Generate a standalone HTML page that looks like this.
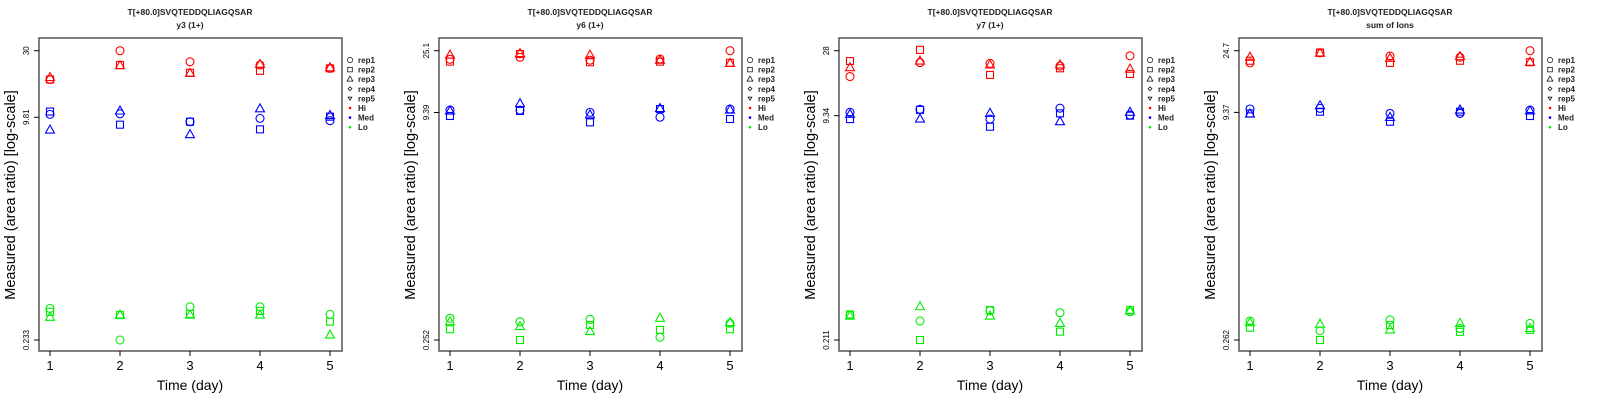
<!DOCTYPE html>
<html><head><meta charset="utf-8"><style>
html,body{margin:0;padding:0;background:#fff;}
svg{display:block;font-family:"Liberation Sans",sans-serif;}
</style></head><body>
<svg id="chart" width="1600" height="400" xmlns="http://www.w3.org/2000/svg"></svg>
<script>
const days = [1,2,3,4,5];
const panelTitles = ["y3 (1+)","y6 (1+)","y7 (1+)","sum of Ions"];
const peptide = "T[+80.0]SVQTEDDQLIAGQSAR";
const yTickTop = [30, 25.1, 28, 24.7];
const yTickMid = [9.81, 9.39, 9.34, 9.37];
const yTickBot = [0.233, 0.252, 0.211, 0.262];
const yTickLabels = [["30","9.81","0.233"],["25.1","9.39","0.252"],["28","9.34","0.211"],["24.7","9.37","0.262"]];
const legendLabels = ["rep1","rep2","rep3","rep4","rep5","Hi","Med","Lo"];
// values[panel][group Hi/Med/Lo][rep][day]
const p1Hi = [[18.5,30,24.9,23.6,22.3],[18.5,23.6,20.7,21.4,22.3],[19.1,23.3,20.5,23.8,22.5]];
const p1Med = [[10.3,10.4,9.10,9.63,9.26],[10.8,8.66,9.10,8.01,9.91],[7.91,10.9,7.32,11.3,10.1]];
const p1Lo = [[0.396,0.233,0.407,0.407,0.358],[0.374,0.354,0.361,0.379,0.317],[0.341,0.354,0.354,0.354,0.253]];
const p2Hi = [[21.9,22.6,21.6,22.0,25.1],[21.1,23.8,20.9,21.1,20.7],[23.4,24.0,23.4,21.6,20.5]];
const p2Med = [[9.77,9.77,9.41,8.71,9.92],[8.89,9.63,8.03,9.92,8.47],[9.61,10.8,9.03,10.0,9.77]];
const p2Lo = [[0.356,0.337,0.350,0.263,0.329],[0.299,0.252,0.320,0.296,0.299],[0.337,0.312,0.288,0.356,0.332]];
const p3Hi = [[18.1,22.9,22.6,21.6,25.7],[23.5,28.4,18.6,20.8,18.9],[21.0,23.5,22.0,22.0,20.5]];
const p3Med = [[9.88,10.4,8.82,10.6,9.44],[8.82,10.3,7.75,9.71,9.34],[9.55,8.82,9.71,8.44,9.88]];
const p3Lo = [[0.321,0.291,0.346,0.335,0.340],[0.325,0.211,0.350,0.243,0.350],[0.316,0.370,0.316,0.279,0.344]];
const p4Hi = [[20.4,23.9,22.7,22.3,24.7],[21.1,24.0,20.4,21.1,20.6],[22.3,23.7,21.9,22.5,20.6]];
const p4Med = [[9.88,9.98,9.22,9.22,9.72],[9.22,9.47,8.09,9.47,8.85],[9.13,10.4,8.66,9.72,9.58]];
const p4Lo = [[0.353,0.303,0.359,0.314,0.340],[0.318,0.262,0.331,0.298,0.307],[0.344,0.336,0.307,0.340,0.314]];
const panelData = [[p1Hi,p1Med,p1Lo],[p2Hi,p2Med,p2Lo],[p3Hi,p3Med,p3Lo],[p4Hi,p4Med,p4Lo]];
const groupColors = ["#ff0000","#0000ff","#00ee00"];
const groupNames = ["hi","med","lo"];

const NS="http://www.w3.org/2000/svg";
const svg=document.getElementById('chart');
function mk(tag,attrs,parent){const e=document.createElementNS(NS,tag);for(const k in attrs)e.setAttribute(k,attrs[k]);(parent||svg).appendChild(e);return e;}
const BX0=39,BX1=342,BY0=38,BY1=351,YT=50.7,YB=340;
function xScale(d){return 50+(d-1)*70;}
function yScale(p,v){const lt=Math.log10(yTickTop[p]),lb=Math.log10(yTickBot[p]);return YT+(lt-Math.log10(v))/(lt-lb)*(YB-YT);}
function marker(g,shape,x,y,color){
  let e;
  if(shape===0){e=mk('circle',{cx:x,cy:y,r:4,fill:'none',stroke:color,'stroke-width':1.1},g);}
  else if(shape===1){e=mk('rect',{x:x-3.5,y:y-3.5,width:7,height:7,fill:'none',stroke:color,'stroke-width':1.1},g);}
  else if(shape===2){e=mk('polygon',{points:`${x},${y-5} ${x-4.5},${y+3} ${x+4.5},${y+3}`,fill:'none',stroke:color,'stroke-width':1.1},g);}
  else if(shape===3){e=mk('polygon',{points:`${x},${y-3} ${x+3},${y} ${x},${y+3} ${x-3},${y}`,fill:'none',stroke:color,'stroke-width':1.1},g);}
  else {e=mk('polygon',{points:`${x},${y+3} ${x-3},${y-2} ${x+3},${y-2}`,fill:'none',stroke:color,'stroke-width':1.1},g);}
  return e;
}
for(let p=0;p<4;p++){
  const g=mk('g',{transform:`translate(${p*400},0)`});
  
  
  let t=mk('text',{x:190,y:15,'text-anchor':'middle','font-size':8.5,'font-weight':'bold',fill:'#222'},g);t.textContent=peptide;
  
  t=mk('text',{x:190,y:28,'text-anchor':'middle','font-size':8.5,'font-weight':'bold',fill:'#222'},g);t.textContent=panelTitles[p];
  
  const box=mk('rect',{x:BX0,y:BY0,width:BX1-BX0,height:BY1-BY0,fill:'none',stroke:'#555','stroke-width':1.5},g);
  
  // y ticks
  const tv=[yTickTop[p],yTickMid[p],yTickBot[p]];
  for(let i=0;i<3;i++){
    const y=yScale(p,tv[i]);
    mk('line',{x1:BX0-5,x2:BX0,y1:y,y2:y,stroke:'#000'},g);
    const tl=mk('text',{x:0,y:0,transform:`translate(29,${y}) rotate(-90)`,'text-anchor':'middle','font-size':8,fill:'#000'},g);
    tl.textContent=yTickLabels[p][i];
    
  }
  for(const d of days){
    const x=xScale(d);
    mk('line',{x1:x,x2:x,y1:BY1,y2:BY1+5,stroke:'#000'},g);
    const tl=mk('text',{x:x,y:370,'text-anchor':'middle','font-size':13,fill:'#000'},g);tl.textContent=d;
    
  }
  t=mk('text',{x:190,y:390,'text-anchor':'middle','font-size':14,fill:'#000'},g);t.textContent="Time (day)";
  
  t=mk('text',{x:0,y:0,transform:'translate(15,195) rotate(-90)','text-anchor':'middle','font-size':14.5,fill:'#000'},g);t.textContent="Measured (area ratio) [log-scale]";
  
  // points
  for(let gi=0;gi<3;gi++){
    const reps=panelData[p][gi];
    for(let r=0;r<reps.length;r++){
      for(let di=0;di<days.length;di++){
        const m=marker(g,r,xScale(days[di]),yScale(p,reps[r][di]),groupColors[gi]);
        
        
      }
    }
  }
  // legend
  const lg=mk('g',{},g);
  
  for(let i=0;i<legendLabels.length;i++){
    const y=60+i*9.6;
    const eg=mk('g',{},lg);
    
    
    if(i<5){const m=marker(eg,i,350,y,'#000');m.setAttribute('transform',`translate(350,${y}) scale(0.65) translate(-350,${-y})`);}
    else mk('circle',{cx:350,cy:y,r:1.3,fill:groupColors[i-5]},eg);
    const lt=mk('text',{x:358,y:y+3,'font-size':8,'font-weight':'bold',fill:'#222'},eg);lt.textContent=legendLabels[i];
  }
}
</script>
</body></html>
